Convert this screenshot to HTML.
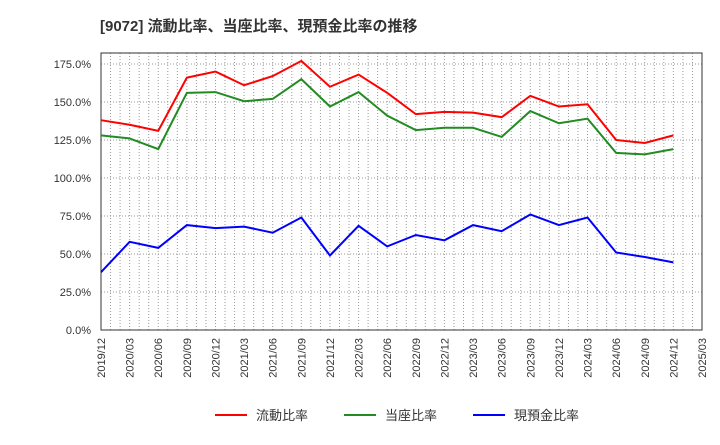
<!DOCTYPE html>
<html><head><meta charset="utf-8"><style>
body{margin:0;background:#fff;font-family:"Liberation Sans","Noto Sans CJK JP",sans-serif;}
</style></head><body>
<svg id="c" width="720" height="440" xmlns="http://www.w3.org/2000/svg">
<text x="100" y="31" font-size="15" font-weight="bold" fill="#333" font-family="Liberation Sans, Noto Sans CJK JP, sans-serif">[9072]  流動比率、当座比率、現預金比率の推移</text>
<g id="grid"></g><g id="axes"></g><g id="series"></g>
<g id="legend" font-size="13" fill="#333" font-family="Liberation Sans, Noto Sans CJK JP, sans-serif">
<g><line x1="215" y1="415" x2="247" y2="415" stroke="#f00" stroke-width="2"/><text x="256" y="420">流動比率</text></g>
<g><line x1="344" y1="415" x2="376" y2="415" stroke="#228b22" stroke-width="2"/><text x="385" y="420">当座比率</text></g>
<g><line x1="473" y1="415" x2="505" y2="415" stroke="#00f" stroke-width="2"/><text x="514" y="420">現預金比率</text></g>
</g>
</svg>
<script>
const categories=["2019/12","2020/03","2020/06","2020/09","2020/12","2021/03","2021/06","2021/09","2021/12","2022/03","2022/06","2022/09","2022/12","2023/03","2023/06","2023/09","2023/12","2024/03","2024/06","2024/09","2024/12","2025/03"];
const currentRatio=[138,135,131,166,170,161,167,177,160,168,156,142,143.5,143,140,154,147,148.5,125,123,128];
const quickRatio=[128,126,119,156,156.5,150.5,152,165,147,156.5,141,131.5,133,133,127,144,136,139,116.5,115.5,119];
const cashRatio=[38,58,54,69,67,68,64,74,49,68.5,55,62.5,59,69,65,76,69,74,51,48,44.5];
const yTicks=[0,25,50,75,100,125,150,175];
const L=101,R=702,T=53,B=330,YMAX=182.2;
const x=i=>L+(R-L)*i/(categories.length-1);
const y=v=>B-(B-T)*v/YMAX;
const NS="http://www.w3.org/2000/svg";
function mk(tag,parent,attrs){const e=document.createElementNS(NS,tag);for(const k in attrs)e.setAttribute(k,attrs[k]);parent.appendChild(e);return e;}
const grid=document.getElementById('grid'),axes=document.getElementById('axes'),ser=document.getElementById('series');
for(let m=1;m<(categories.length-1)*3;m++){const xx=L+(R-L)*m/((categories.length-1)*3);
const g=mk('line',grid,{x1:xx,x2:xx,y1:T,y2:B,stroke:'#999','stroke-dasharray':'1,2','stroke-width':1});

}
yTicks.forEach(v=>{const yy=y(v);
if(v>0){const g=mk('line',grid,{x1:L,x2:R,y1:yy,y2:yy,stroke:'#999','stroke-dasharray':'1,2'});

}
const t=mk('text',axes,{x:91,y:yy+4,'text-anchor':'end','font-size':11,fill:'#333'});t.textContent=v.toFixed(1)+'%';

});
categories.forEach((c,i)=>{const t=mk('text',axes,{transform:`translate(${x(i)+4},${B+8}) rotate(-90)`,'text-anchor':'end','font-size':11,fill:'#333'});t.textContent=c;

});
const fr=mk('rect',axes,{x:L,y:T,width:R-L,height:B-T,fill:'none',stroke:'#333','stroke-width':1});


[[currentRatio,'#f00','current-ratio-line'],[quickRatio,'#228b22','quick-ratio-line'],[cashRatio,'#00f','cash-ratio-line']].forEach(([d,col,n])=>{
const p=mk('polyline',ser,{points:d.map((v,i)=>x(i)+','+y(v)).join(' '),fill:'none',stroke:col,'stroke-width':2});

});
</script>
</body></html>
